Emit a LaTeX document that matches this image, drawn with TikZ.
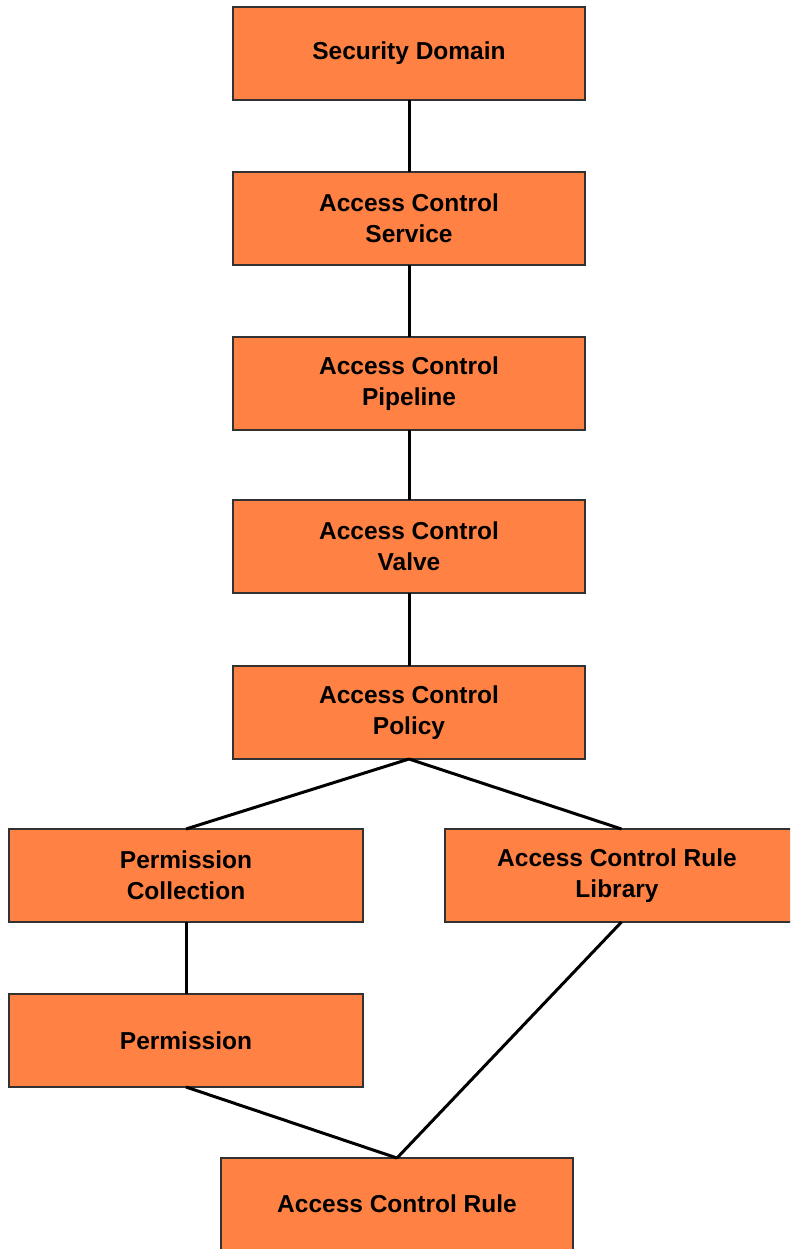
\documentclass[tikz,border=0pt]{standalone}
\usepackage{fontspec}
\setmainfont{Liberation Sans}
\definecolor{boxfill}{RGB}{255,130,68}
\definecolor{boxline}{RGB}{50,50,50}
\begin{document}
\begin{tikzpicture}[x=1pt,y=-1pt,
  boxtext/.style={align=center, inner sep=0pt, font=\fontsize{24.5}{31}\selectfont\bfseries},
  box/.style={boxtext, draw=boxline, line width=1.2pt, fill=boxfill, outer sep=0pt,
    minimum width=352pt, minimum height=93pt},
  link/.style={line width=3pt, black}]
\clip (0,0) rectangle (790,1249);
\fill[white] (0,0) rectangle (790,1249);

\node[box] (sd)  at (409,53.5)  {Security Domain};
\node[box] (acs) at (409,218.5) {Access Control\\Service};
\node[box] (acp) at (409,383.5) {Access Control\\Pipeline};
\node[box] (acv) at (409,546.5) {Access Control\\Valve};
\node[box] (pol) at (409,712.5) {Access Control\\Policy};
\node[box, minimum width=354pt] (pc)  at (186,875.5) {Permission\\Collection};
% the library box runs past the right edge of the page
\node[box, minimum width=353pt] (lib) at (621.5,875.5) {};
\node[boxtext] (libtext) at (617,875.5) {Access Control Rule\\Library};
\node[box, minimum width=354pt] (perm) at (186,1040.5) {Permission};
\node[box, minimum height=92pt] (rule) at (397,1204) {Access Control Rule};

\draw[link] (sd.south) -- (acs.north);
\draw[link] (acs.south) -- (acp.north);
\draw[link] (acp.south) -- (acv.north);
\draw[link] (acv.south) -- (pol.north);
\draw[link] (pol.south) -- (pc.north);
\draw[link] (pol.south) -- (lib.north);
\draw[link] (pc.south) -- (perm.north);
\draw[link] (perm.south) -- (rule.north);
\draw[link] (lib.south) -- (rule.north);
\end{tikzpicture}
\end{document}
